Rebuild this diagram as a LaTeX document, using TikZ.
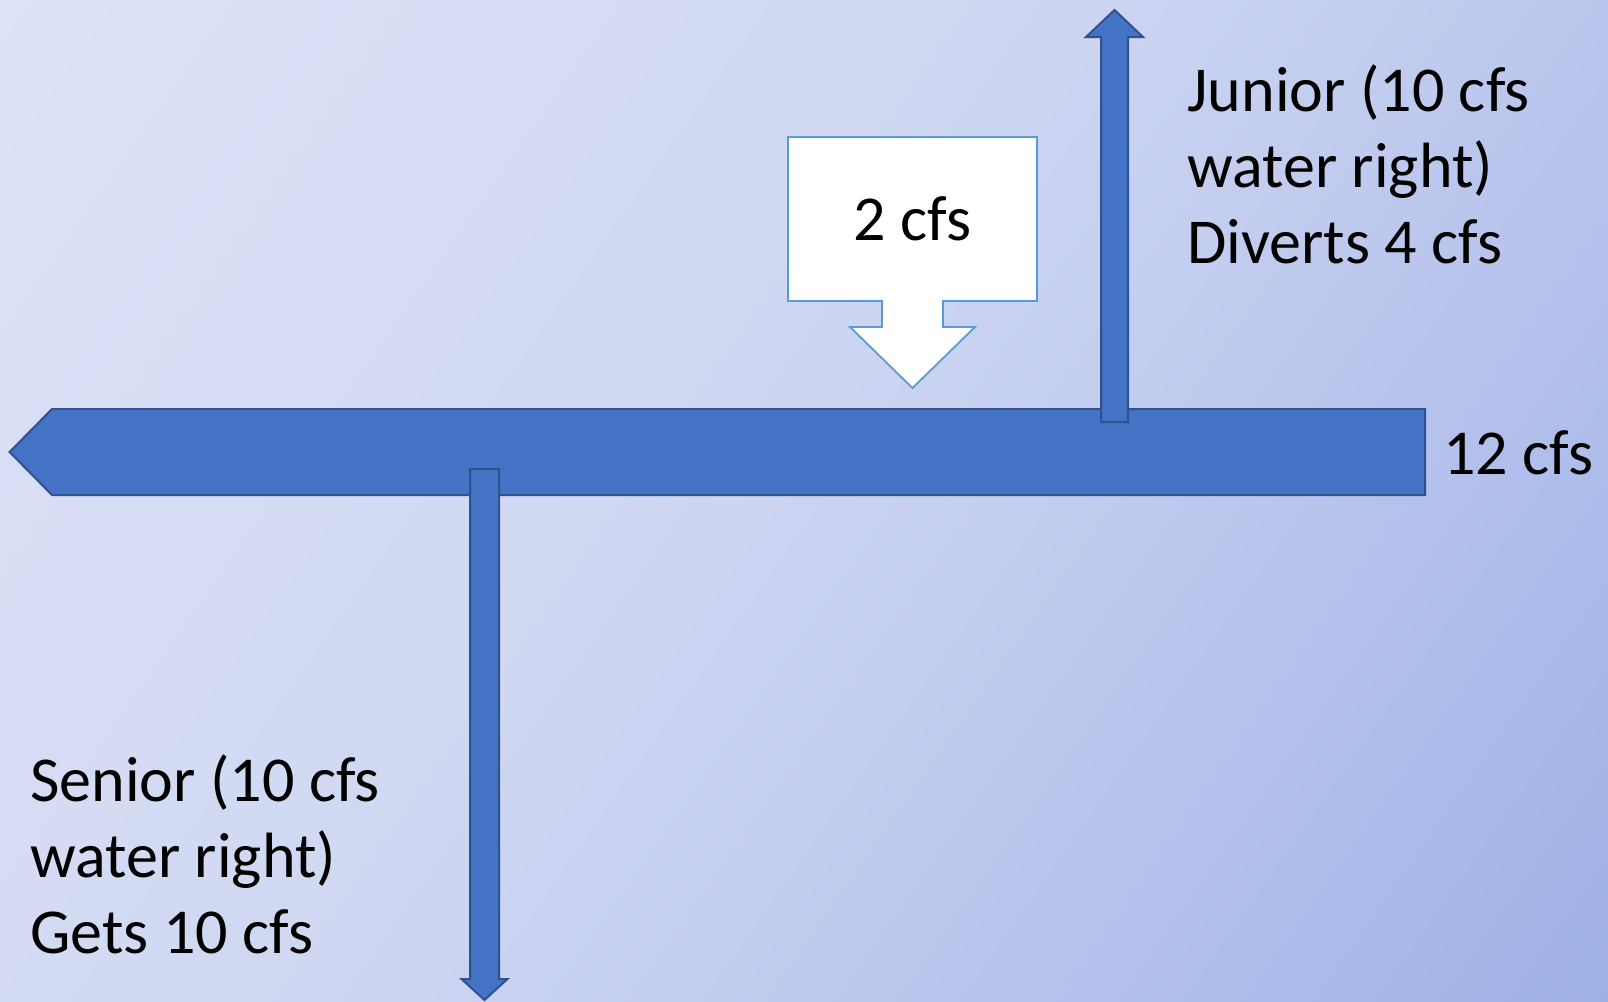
\documentclass[tikz,border=0pt]{standalone}
\usepackage{fontspec}
\setmainfont{Carlito}

\definecolor{bgLight}{HTML}{DDE2F6}
\definecolor{bgSoft}{HTML}{D0D8F2}
\definecolor{bgMid}{HTML}{C3CDEF}
\definecolor{bgDark}{HTML}{9FB0E7}
\definecolor{riverBlue}{HTML}{4472C4}
\definecolor{riverEdge}{HTML}{2F528F}
\definecolor{calloutEdge}{HTML}{5B9BD5}

\pgfdeclarehorizontalshading{valleyfade}{100bp}{color(0bp)=(bgLight); color(15bp)=(bgLight);
  color(44bp)=(bgSoft); color(57bp)=(bgMid); color(85bp)=(bgDark); color(100bp)=(bgDark)}

\begin{document}
\begin{tikzpicture}[
    x=0.5pt, y=-0.5pt,
    stream/.style={fill=riverBlue, draw=riverEdge, line width=1pt},
    inflow/.style={fill=white, draw=calloutEdge, line width=0.9pt},
    info/.style={inner sep=0pt, font=\fontsize{32}{38}\selectfont, align=left, anchor=base west}
]

% Background
\shade[shading=valleyfade, shading angle=-35] (0,0) rectangle (1608,1002);
\useasboundingbox (0,0) rectangle (1608,1002);

% Main river flowing left
\draw[stream] (9.6,452) -- (52,409) -- (1425,409) -- (1425,495) -- (52,495) -- cycle;

% Junior diversion (up) and senior diversion (down)
\draw[stream] (1101,422) -- (1101,37) -- (1086,37) -- (1114.5,10) -- (1143,37) -- (1128,37) -- (1128,422) -- cycle;
\draw[stream] (470,469) -- (499,469) -- (499,979) -- (507.5,979) -- (484.5,1000) -- (461.5,979) -- (470,979) -- cycle;

% Tributary inflow callout
\draw[inflow] (788,137) -- (1037,137) -- (1037,301) -- (943,301) -- (943,327) -- (975,327) -- (912.5,388)
    -- (850,327) -- (882,327) -- (882,301) -- (788,301) -- cycle;

% Labels (base anchor sits on the last line)
\node (inflow_text) [info, anchor=base] at (912.5,240) {2 cfs};
\node (total_flow) [info] at (1443,474) {12 cfs};
\node (junior_text) [info] at (1187,263) {Junior (10 cfs\\water right)\\Diverts 4 cfs};
\node (senior_text) [info] at (30,953) {Senior (10 cfs\\water right)\\Gets 10 cfs};

\end{tikzpicture}
\end{document}
